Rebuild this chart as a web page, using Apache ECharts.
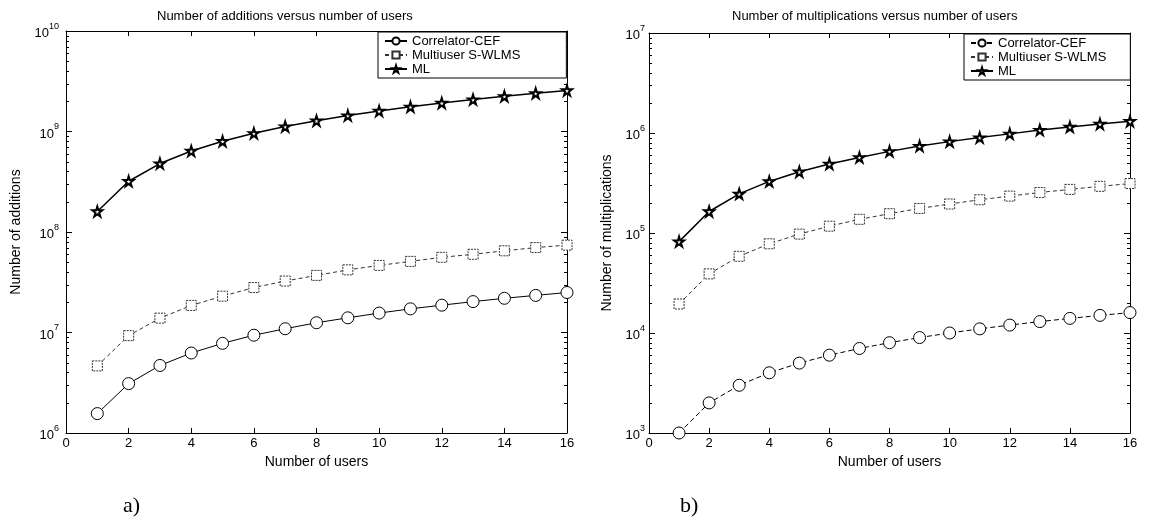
<!DOCTYPE html>
<html>
<head>
<meta charset="utf-8">
<script src="https://cdn.jsdelivr.net/npm/echarts@6/dist/echarts.min.js"></script>
<style>
  html, body { margin: 0; padding: 0; background: #fff; }
  #wrap { position: relative; width: 1168px; height: 522px; }
  #chartA { position: absolute; left: 0; top: 0; width: 584px; height: 522px; }
  #chartB { position: absolute; left: 584px; top: 0; width: 584px; height: 522px; }
</style>
</head>
<body>
<div id="wrap"><div id="chartA"></div><div id="chartB"></div></div>
<script>
// Number of users (x axis)
const users = [1, 2, 3, 4, 5, 6, 7, 8, 9, 10, 11, 12, 13, 14, 15, 16];
const xTicks = [0, 2, 4, 6, 8, 10, 12, 14, 16];

// Panel a) number of additions
const addCEF  = [1.56e6, 3.1e6, 4.7e6, 6.25e6, 7.8e6, 9.4e6, 1.09e7, 1.25e7, 1.4e7, 1.56e7, 1.72e7, 1.87e7, 2.03e7, 2.19e7, 2.34e7, 2.5e7];
const addWLMS = [4.65e6, 9.3e6, 1.39e7, 1.86e7, 2.3e7, 2.8e7, 3.25e7, 3.7e7, 4.2e7, 4.65e7, 5.1e7, 5.6e7, 6.0e7, 6.5e7, 7.0e7, 7.4e7];
const addML   = [1.6e8, 3.2e8, 4.8e8, 6.4e8, 8.0e8, 9.6e8, 1.12e9, 1.28e9, 1.44e9, 1.6e9, 1.76e9, 1.92e9, 2.08e9, 2.24e9, 2.4e9, 2.56e9];

// Panel b) number of multiplications
const mulCEF  = [1000, 2000, 3000, 4000, 5000, 6000, 7000, 8000, 9000, 10000, 11000, 12000, 13000, 14000, 15000, 16000];
const mulWLMS = [1.95e4, 3.9e4, 5.85e4, 7.8e4, 9.75e4, 1.17e5, 1.37e5, 1.56e5, 1.76e5, 1.95e5, 2.15e5, 2.34e5, 2.54e5, 2.73e5, 2.93e5, 3.12e5];
const mulML   = [8.2e4, 1.64e5, 2.46e5, 3.28e5, 4.1e5, 4.9e5, 5.7e5, 6.55e5, 7.4e5, 8.2e5, 9.0e5, 9.8e5, 1.07e6, 1.15e6, 1.23e6, 1.31e6];

const seriesNames = ['Correlator-CEF', 'Multiuser S-WLMS', 'ML'];

const FONT = 'Liberation Sans, Arial, sans-serif';
const STAR = 'path://M50,0 L61,35 L98,35 L68,57 L79,91 L50,70 L21,91 L32,57 L2,35 L39,35 Z';

function pairs(ys) { return users.map((u, i) => [u, ys[i]]); }

// Minor log ticks (2..9 x 10^k) on both vertical edges of the box
function minorTickValues(minExp, maxExp) {
  const out = [];
  for (let e = minExp; e < maxExp; e++) {
    for (let k = 2; k <= 9; k++) {
      const v = k * Math.pow(10, e);
      out.push([0, v]);
      out.push([16, v]);
    }
  }
  return out;
}

function powLabel(v) {
  const e = Math.round(Math.log10(v));
  return '{b|10}{e|' + e + '}';
}

function buildOption(cfg) {
  const axisLineStyle = { color: '#000', width: 1 };
  const frameLine = { show: true, onZero: false, lineStyle: axisLineStyle };
  return {
    animation: false,
    backgroundColor: '#fff',
    title: {
      text: cfg.title,
      left: cfg.titleLeft,
      top: 5,
      textStyle: { fontFamily: FONT, fontSize: 13, fontWeight: 'normal', color: '#000' }
    },
    legend: {
      left: cfg.legendLeft,
      top: cfg.grid.top + 1,
      orient: 'vertical',
      data: seriesNames,
      itemWidth: 22,
      itemHeight: 9,
      itemGap: 0,
      padding: cfg.legendPadding,
      borderColor: '#000',
      borderWidth: 1,
      borderRadius: 0,
      backgroundColor: '#fff',
      selectedMode: false,
      textStyle: { fontFamily: FONT, fontSize: 13, color: '#000', lineHeight: 14 }
    },
    grid: Object.assign({ containLabel: false, outerBoundsMode: 'none' }, cfg.grid),
    xAxis: [
      {
        type: 'value', min: 0, max: 16, interval: 2,
        name: 'Number of users', nameLocation: 'middle', nameGap: 22,
        nameTextStyle: { fontFamily: FONT, fontSize: 14, color: '#000' },
        axisLine: frameLine,
        axisTick: { inside: true, length: 5, lineStyle: axisLineStyle },
        axisLabel: { fontFamily: FONT, fontSize: 13, color: '#000', margin: 4,
          formatter: v => xTicks.includes(v) ? String(v) : '' },
        splitLine: { show: false }
      },
      {
        type: 'value', min: 0, max: 16, interval: 2, position: 'top',
        axisLine: frameLine,
        axisTick: { inside: true, length: 5, lineStyle: axisLineStyle },
        axisLabel: { show: false },
        splitLine: { show: false }
      }
    ],
    yAxis: [
      {
        type: 'log', logBase: 10, min: cfg.yMin, max: cfg.yMax, position: 'left',
        name: cfg.yName, nameLocation: 'middle', nameGap: cfg.yNameGap,
        nameTextStyle: { fontFamily: FONT, fontSize: 14, color: '#000' },
        axisLine: frameLine,
        axisTick: { inside: true, length: 6, lineStyle: axisLineStyle },
        axisLabel: {
          margin: cfg.yLabelMargin, formatter: powLabel,
          rich: {
            b: { fontFamily: FONT, fontSize: 13, color: '#000', lineHeight: 18, verticalAlign: 'bottom' },
            e: { fontFamily: FONT, fontSize: 9, color: '#000', lineHeight: 10, verticalAlign: 'top' }
          }
        },
        splitLine: { show: false }
      },
      {
        type: 'log', logBase: 10, min: cfg.yMin, max: cfg.yMax, position: 'right',
        axisLine: frameLine,
        axisTick: { inside: true, length: 6, lineStyle: axisLineStyle },
        axisLabel: { show: false },
        splitLine: { show: false }
      }
    ],
    series: [
      {
        type: 'custom', silent: true, z: 1, clip: false,
        data: minorTickValues(Math.round(Math.log10(cfg.yMin)), Math.round(Math.log10(cfg.yMax))),
        encode: { x: 0, y: 1 },
        renderItem: function (params, api) {
          const p = api.coord([api.value(0), api.value(1)]);
          const dir = api.value(0) === 0 ? 1 : -1;
          const y = Math.round(p[1]) + 0.5;
          return {
            type: 'line',
            shape: { x1: p[0], y1: y, x2: p[0] + dir * 3, y2: y },
            style: { stroke: '#000', lineWidth: 1 }
          };
        }
      },
      {
        name: 'Correlator-CEF', type: 'line', data: pairs(cfg.cef),
        symbol: 'circle', symbolSize: 12, showAllSymbol: true,
        lineStyle: { color: '#000', width: 1, type: cfg.cefLine },
        itemStyle: { color: '#fff', borderColor: '#000', borderWidth: 1 },
        z: 3
      },
      {
        name: 'Multiuser S-WLMS', type: 'line', data: pairs(cfg.wlms),
        symbol: 'rect', symbolSize: 10, showAllSymbol: true,
        lineStyle: { color: '#333', width: 1, type: [4, 3] },
        itemStyle: { color: '#fff', borderColor: '#333', borderWidth: 1, borderType: [2, 1] },
        z: 3
      },
      {
        name: 'ML', type: 'line', data: pairs(cfg.ml),
        symbol: STAR, symbolSize: 10, showAllSymbol: true,
        lineStyle: { color: '#000', width: 1.5 },
        itemStyle: { color: '#fff', borderColor: '#000', borderWidth: 2 },
        z: 3
      }
    ],
    graphic: [
      {
        type: 'text', left: cfg.capLeft, top: 495,
        style: { text: cfg.caption, font: '22px "Liberation Serif", "Times New Roman", serif', fill: '#000' }
      }
    ]
  };
}

const chartA = echarts.init(document.getElementById('chartA'), null, { renderer: 'canvas' });
chartA.setOption(buildOption({
  title: 'Number of additions versus number of users',
  titleLeft: 152,
  grid: { left: 66, top: 31, width: 501, height: 402 },
  legendLeft: 378,
  legendPadding: [2, 46, 2, 6],
  yMin: 1e6, yMax: 1e10, yName: 'Number of additions', yNameGap: 38, yLabelMargin: 7,
  cef: addCEF, wlms: addWLMS, ml: addML, cefLine: 'solid',
  caption: 'a)', capLeft: 123
}));

const chartB = echarts.init(document.getElementById('chartB'), null, { renderer: 'canvas' });
chartB.setOption(buildOption({
  title: 'Number of multiplications versus number of users',
  titleLeft: 143,
  grid: { left: 65, top: 33, width: 481, height: 400 },
  legendLeft: 380,
  legendPadding: [2, 24, 2, 6],
  yMin: 1e3, yMax: 1e7, yName: 'Number of multiplications', yNameGap: 35, yLabelMargin: 4,
  cef: mulCEF, wlms: mulWLMS, ml: mulML, cefLine: [5, 3],
  caption: 'b)', capLeft: 96
}));
</script>
</body>
</html>
